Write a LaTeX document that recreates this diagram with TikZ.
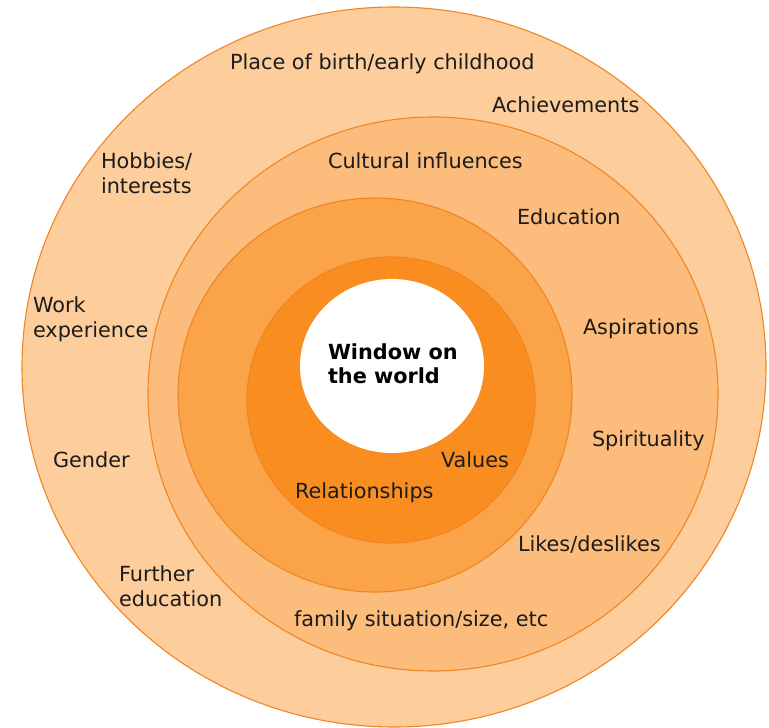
\documentclass[tikz,border=0pt]{standalone}
\usepackage{fontspec}
\setmainfont{DejaVu Sans}
\definecolor{ringA}{RGB}{253,205,155}
\definecolor{ringB}{RGB}{252,188,124}
\definecolor{ringC}{RGB}{251,163,72}
\definecolor{ringD}{RGB}{249,141,31}
\definecolor{ringline}{RGB}{240,134,36}
\definecolor{txt}{RGB}{28,28,28}
\begin{document}
\begin{tikzpicture}[x=1pt,y=-1pt,
  ring/.style={draw=ringline,line width=1.1pt},
  lbl/.style={anchor=base west,inner sep=0pt,outer sep=0pt,text=txt,
    font=\fontsize{20.8}{24.5}\selectfont,align=left},
  title/.style={anchor=base west,inner sep=0pt,outer sep=0pt,text=black,
    font=\fontsize{20.8}{23.5}\selectfont\bfseries,align=left}]
\useasboundingbox (0,0) rectangle (769,728);
\fill[white] (0,0) rectangle (769,728);
% rings
\path[ring,fill=ringA] (394,367) ellipse [x radius=372pt, y radius=360pt];
\path[ring,fill=ringB] (433,394) ellipse [x radius=285pt, y radius=277pt];
\path[ring,fill=ringC] (375,395) ellipse [x radius=197pt, y radius=197pt];
\path[ring,fill=ringD] (391,400) ellipse [x radius=144pt, y radius=143pt];
\path[fill=white] (392,366) ellipse [x radius=92pt, y radius=87pt];
% labels (multi-line labels are placed by the baseline of their last line)
\node[lbl] (place) at (230,69) {Place of birth/early childhood};
\node[lbl] (achiev) at (492,112) {Achievements};
\node[lbl] (hobbies) at (101,193) {Hobbies/\\interests};
\node[lbl] (cultural) at (328,168) {Cultural influences};
\node[lbl] (educ) at (517,224) {Education};
\node[lbl] (work) at (33,337) {Work\\experience};
\node[lbl] (aspir) at (583,334) {Aspirations};
\node[title] (window) at (328,383) {Window on\\the world};
\node[lbl] (spirit) at (592,446) {Spirituality};
\node[lbl] (gender) at (53,467) {Gender};
\node[lbl] (values) at (441,467) {Values};
\node[lbl] (relat) at (295,498) {Relationships};
\node[lbl] (likes) at (518,551) {Likes/deslikes};
\node[lbl] (further) at (119,606) {Further\\education};
\node[lbl] (family) at (294,626) {family situation/size, etc};
\end{tikzpicture}
\end{document}
